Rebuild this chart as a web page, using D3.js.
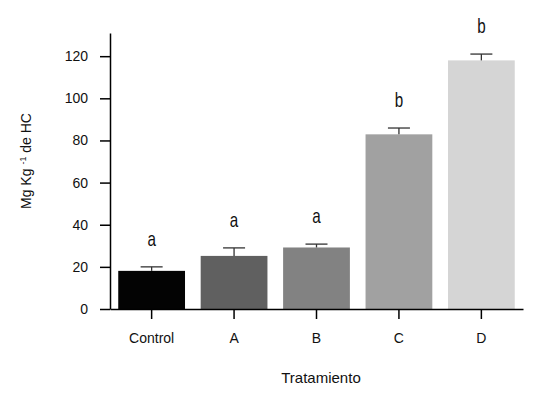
<!DOCTYPE html>
<html>
<head>
<meta charset="utf-8">
<script src="https://cdn.jsdelivr.net/npm/d3@7"></script>
<style>
  html, body { margin: 0; padding: 0; background: #fff; }
  svg { display: block; font-family: "Liberation Sans", Arial, sans-serif; }
</style>
</head>
<body>
<svg id="chart" width="544" height="399"></svg>
<script>
const categories = ["Control", "A", "B", "C", "D"];
const means = [18.1, 25.2, 29.2, 82.9, 118.0];
const errors = [1.9, 3.8, 1.6, 3.0, 3.0];
const letters = ["a", "a", "a", "b", "b"];
const yTicks = [0, 20, 40, 60, 80, 100, 120];
const barColors = ["#030303", "#606060", "#828282", "#a1a1a1", "#d5d5d5"];

const svg = d3.select("#chart");
const x = d3.scaleBand().domain(categories).range([110, 523]).paddingInner(0.19).paddingOuter(0.1);
const y = d3.scaleLinear().domain([0, 131]).range([309, 33]);

const data = categories.map((c, i) => ({ c, m: means[i], e: errors[i], l: letters[i], col: barColors[i] }));

// bars
svg.append("g").selectAll("rect").data(data).join("rect")
  .attr("x", d => x(d.c))
  .attr("width", x.bandwidth())
  .attr("y", d => y(d.m))
  .attr("height", d => y(0) - y(d.m))
  .attr("fill", d => d.col);

// error bars
const eb = svg.append("g").attr("stroke", "#333").attr("stroke-width", 1.3);
eb.selectAll("line.v").data(data).join("line").attr("class", "v")
  .attr("x1", d => x(d.c) + x.bandwidth() / 2).attr("x2", d => x(d.c) + x.bandwidth() / 2)
  .attr("y1", d => y(d.m)).attr("y2", d => y(d.m + d.e));
eb.selectAll("line.h").data(data).join("line").attr("class", "h")
  .attr("x1", d => x(d.c) + x.bandwidth() / 2 - 11).attr("x2", d => x(d.c) + x.bandwidth() / 2 + 11)
  .attr("y1", d => y(d.m + d.e)).attr("y2", d => y(d.m + d.e));

// letters
svg.append("g").selectAll("text").data(data).join("text")
  .attr("transform", d => `translate(${x(d.c) + x.bandwidth() / 2},${y(d.m + d.e) - 21}) scale(0.95,1.22)`)
  .attr("text-anchor", "middle")
  .attr("font-size", 16)
  .attr("fill", "#111")
  .text(d => d.l);

// axes
const yAxis = svg.append("g").attr("transform", "translate(110,0)")
  .call(d3.axisLeft(y).tickValues(yTicks).tickSize(10).tickSizeOuter(0).tickPadding(12));
const xAxis = svg.append("g").attr("transform", "translate(0,309)")
  .call(d3.axisBottom(x).tickSize(10).tickSizeOuter(0).tickPadding(14));
[yAxis, xAxis].forEach(g => {
  g.select(".domain").attr("stroke", "#000").attr("stroke-width", 1.5);
  g.selectAll(".tick line").attr("stroke", "#000").attr("stroke-width", 1.5);
  g.selectAll(".tick text").attr("font-size", 14).attr("fill", "#111")
    .attr("font-family", "'Liberation Sans', Arial, sans-serif");
});

// axis titles
svg.append("text")
  .attr("x", 321).attr("y", 383)
  .attr("text-anchor", "middle")
  .attr("font-size", 15)
  .attr("fill", "#111")
  .text("Tratamiento");

const yl = svg.append("text")
  .attr("transform", "translate(31,161) rotate(-90)")
  .attr("text-anchor", "middle")
  .attr("font-size", 14)
  .attr("fill", "#111");
yl.append("tspan").text("Mg Kg ");
yl.append("tspan").attr("font-size", 9).attr("dy", -5).text("-1");
yl.append("tspan").attr("dy", 5).text(" de HC");
</script>
</body>
</html>
